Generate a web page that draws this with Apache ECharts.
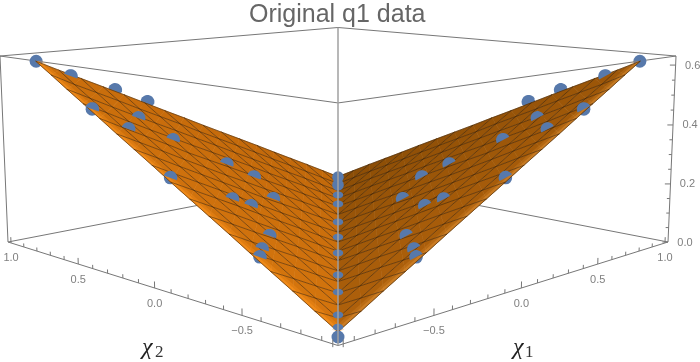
<!DOCTYPE html>
<html>
<head>
<meta charset="utf-8">
<style>html,body{margin:0;padding:0;background:#fff}#main{width:700px;height:362px}</style>
<script src="https://cdn.jsdelivr.net/npm/echarts@6/dist/echarts.min.js"></script>
</head>
<body>
<div id="main"></div>
<script>
// surface samples, rows are chi1, columns are chi2
var chiGrid = [-0.895, -0.783, -0.671, -0.559, -0.448, -0.336, -0.224, -0.112, 0, 0.112, 0.224, 0.336, 0.448, 0.559, 0.671, 0.783, 0.895];
var q1Table = [
    [0, .038, .077, .115, .153, .192, .230, .268, .306, .345, .383, .421, .460, .498, .536, .575, .613],
    [.038, 0, .038, .077, .115, .153, .192, .230, .268, .306, .345, .383, .421, .460, .498, .536, .576],
    [.077, .038, 0, .038, .077, .115, .153, .192, .230, .268, .306, .345, .383, .421, .460, .500, .540],
    [.115, .077, .038, 0, .038, .077, .115, .153, .192, .230, .268, .306, .345, .383, .423, .464, .504],
    [.153, .115, .077, .038, 0, .038, .077, .115, .153, .192, .230, .268, .306, .347, .387, .427, .468],
    [.192, .153, .115, .077, .038, 0, .038, .077, .115, .153, .192, .230, .270, .310, .351, .391, .431],
    [.230, .192, .153, .115, .077, .038, 0, .038, .077, .115, .153, .194, .234, .274, .314, .355, .394],
    [.268, .230, .192, .153, .115, .077, .038, 0, .038, .077, .117, .157, .198, .238, .278, .317, .358],
    [.306, .268, .230, .192, .153, .115, .077, .038, 0, .040, .081, .121, .161, .202, .241, .281, .321],
    [.345, .306, .268, .230, .192, .153, .115, .077, .040, .004, .044, .085, .125, .164, .205, .245, .285],
    [.383, .345, .306, .268, .230, .192, .153, .117, .081, .044, .008, .048, .088, .128, .168, .209, .249],
    [.421, .383, .345, .306, .268, .230, .194, .157, .121, .085, .048, .011, .051, .092, .132, .172, .213],
    [.460, .421, .383, .345, .306, .270, .234, .198, .161, .125, .088, .051, .015, .055, .096, .136, .176],
    [.498, .460, .421, .383, .347, .310, .274, .238, .202, .164, .128, .092, .055, .019, .059, .100, .140],
    [.536, .498, .460, .423, .387, .351, .314, .278, .241, .205, .168, .132, .096, .059, .023, .063, .104],
    [.575, .536, .500, .464, .427, .391, .355, .317, .281, .245, .209, .172, .136, .100, .063, .027, .067],
    [.613, .576, .540, .504, .468, .431, .394, .358, .321, .285, .249, .213, .176, .140, .104, .067, .030]
];

// data points off the diagonal (mirrored between the two wings)
var pointChiLow = [-.889, -.731, -.456, -.263, -.869, -.544, -.750, -.455, -.060, -.021, -.860, -.542, -.442, -.145, -.585, -.769, -.856];
var pointChiHigh = [.901, .885, .950, .971, .535, .664, .456, .543, .658, .515, .046, .057, .058, .251, -.211, -.373, -.458];
var pointQ1 = [.612, .553, .481, .422, .480, .413, .412, .341, .205, .169, .310, .205, .171, .136, .128, .135, .136];

// data points on the diagonal chi1 = chi2
var diagChi = [-.936, -.858, -.758, -.551, -.380, -.135, .064, .270, .544, .694, .873, .886];
var diagQ1 = [0, 0, 0, 0, 0, 0, 0, 0, 0, 0, 0, .03];

var chiTicks = [-1, -.9, -.8, -.7, -.6, -.5, -.4, -.3, -.2, -.1, 0, .1, .2, .3, .4, .5, .6, .7, .8, .9, 1];
var chiLabels = ['\u22120.5', '0.0', '0.5', '1.0'];
var q1Ticks = [0, .05, .1, .15, .2, .25, .3, .35, .4, .45, .5, .55, .6];
var q1Labels = ['0.0', '0.2', '0.4', '0.6'];

var chiLow = -1, chiHigh = 1, q1Low = 0, q1High = 0.63;
var tickShift = 0.024;

// perspective of the view box
function project(chi1, chi2, q) {
    var a = (chi1 - chi2) / 2;
    var b = (chi1 + chi2) / 2;
    var t = q / q1High;
    var w = 1 + 0.238 * b - 0.0237 * t;
    return [338 + 330 * a / w, (242 - 21.3 * b - 187.3 * t) / w];
}

function hex(c) {
    return [parseInt(c.substr(1, 2), 16), parseInt(c.substr(3, 2), 16), parseInt(c.substr(5, 2), 16)];
}
function mix(c1, c2, u) {
    var p = hex(c1), q = hex(c2);
    return 'rgb(' + Math.round(p[0] + (q[0] - p[0]) * u) + ',' + Math.round(p[1] + (q[1] - p[1]) * u) + ',' + Math.round(p[2] + (q[2] - p[2]) * u) + ')';
}
// left wing is lit, right wing is in shade, both brighter to the front
function wingColor(left, chi1, chi2) {
    var u = (1 - (chi1 + chi2) / 2) / 2;
    return left ? mix('#bf670a', '#d6760e', u) : mix('#874b05', '#b3630c', u);
}

function polygonItem(api, pts, style) {
    return {
        type: 'polygon',
        shape: { points: pts.map(function (p) { return api.coord(p); }) },
        style: style
    };
}
function lineItem(api, pts, stroke, width) {
    return {
        type: 'polyline',
        shape: { points: pts.map(function (p) { return api.coord(p); }) },
        style: { stroke: stroke, fill: null, lineWidth: width }
    };
}

// surface triangles: [i, j, 0 or 1]
var triangles = [];
for (var i = 0; i < chiGrid.length - 1; i++) {
    for (var j = 0; j < chiGrid.length - 1; j++) {
        triangles.push([i, j, 0]);
        triangles.push([i, j, 1]);
    }
}
function node(i, j) {
    return project(chiGrid[i], chiGrid[j], q1Table[i][j]);
}
function renderTriangle(params, api) {
    var i = api.value(0), j = api.value(1), k = api.value(2);
    var pts = k === 0 ? [node(i, j), node(i, j + 1), node(i + 1, j + 1)] : [node(i, j), node(i + 1, j), node(i + 1, j + 1)];
    var left = j === i ? k === 0 : j > i;
    var col = wingColor(left, chiGrid[i] + 0.05, chiGrid[j] + 0.05);
    return polygonItem(api, pts, { fill: col, stroke: col, lineWidth: 0.6 });
}

// bright rim along the two front edges: [wing, j, width, alpha]
var rimStrips = [];
for (var n = 0; n < chiGrid.length - 1; n++) {
    rimStrips.push([0, n, 0.03, 0.3]);
    rimStrips.push([0, n, 0.015, 0.5]);
    rimStrips.push([1, n, 0.03, 0.25]);
    rimStrips.push([1, n, 0.015, 0.45]);
}
function renderRim(params, api) {
    var wing = api.value(0), j = api.value(1), d = api.value(2), alpha = api.value(3);
    var e = chiGrid[0];
    var q0 = q1Table[0][j], q1 = q1Table[0][j + 1];
    var pts;
    if (wing === 0) {
        pts = [project(e, chiGrid[j], q0), project(e, chiGrid[j + 1], q1), project(e + d, chiGrid[j + 1], q1), project(e + d, chiGrid[j], q0)];
    } else {
        pts = [project(chiGrid[j], e, q0), project(chiGrid[j + 1], e, q1), project(chiGrid[j + 1], e + d, q1), project(chiGrid[j], e + d, q0)];
    }
    return polygonItem(api, pts, { fill: wing === 0 ? 'rgba(255,150,30,' + alpha + ')' : 'rgba(225,145,50,' + alpha + ')' });
}

// mesh lines along chi1 and chi2
var meshLines = [];
for (var m = 0; m < chiGrid.length; m++) {
    meshLines.push([0, m]);
    meshLines.push([1, m]);
}
function renderMesh(params, api) {
    var dir = api.value(0), m = api.value(1), pts = [];
    for (var s = 0; s < chiGrid.length; s++) {
        pts.push(dir === 0 ? node(m, s) : node(s, m));
    }
    return lineItem(api, pts, 'rgba(45,28,10,0.68)', 0.75);
}

// box edges: [chi1, chi2, q, chi1, chi2, q]
var backEdges = [
    [chiLow, chiHigh, q1High, chiHigh, chiHigh, q1High],
    [chiHigh, chiLow, q1High, chiHigh, chiHigh, q1High],
    [chiLow, chiHigh, q1High, chiLow, chiLow, q1High],
    [chiHigh, chiLow, q1High, chiLow, chiLow, q1High],
    [chiLow, chiHigh, q1Low, chiHigh, chiHigh, q1Low],
    [chiHigh, chiLow, q1Low, chiHigh, chiHigh, q1Low],
    [chiLow, chiHigh, q1Low, chiLow, chiHigh, q1High],
    [chiHigh, chiLow, q1Low, chiHigh, chiLow, q1High],
    [chiLow, chiLow, q1Low, chiLow, chiHigh, q1Low],
    [chiLow, chiLow, q1Low, chiHigh, chiLow, q1Low]
];
var centerEdge = [[chiHigh, chiHigh, q1High, chiLow, chiLow, q1Low]];
function renderEdge(stroke, width) {
    return function (params, api) {
        return lineItem(api, [
            project(api.value(0), api.value(1), api.value(2)),
            project(api.value(3), api.value(4), api.value(5))
        ], stroke, width);
    };
}

// ticks on the three labelled edges: [which axis, value]
var tickRows = [];
chiTicks.forEach(function (v) { tickRows.push([0, v]); tickRows.push([1, v]); });
q1Ticks.forEach(function (v) { tickRows.push([2, v]); });
function renderTick(params, api) {
    var axis = api.value(0), v = api.value(1), r;
    if (axis === 2) {
        r = Math.round(v * 100) % 20 === 0 ? 0.017 : 0.009;
        return lineItem(api, [project(chiHigh, chiLow, v), project(chiHigh - r, chiLow + r, v)], '#777', 1);
    }
    r = Math.round(v * 10) % 5 === 0 ? 0.02 : 0.012;
    var c = v - tickShift;
    if (axis === 0) {
        return lineItem(api, [project(chiLow, c, 0), project(chiLow, c, r)], '#777', 1);
    }
    return lineItem(api, [project(c, chiLow, 0), project(c, chiLow, r)], '#777', 1);
}

var labelRows = [];
chiLabels.forEach(function (s) {
    labelRows.push([0, parseFloat(s.replace('\u2212', '-')), s]);
    labelRows.push([1, parseFloat(s.replace('\u2212', '-')), s]);
});
q1Labels.forEach(function (s) { labelRows.push([2, parseFloat(s), s]); });
function renderLabel(params, api) {
    var axis = api.value(0), v = api.value(1), s = labelRows[params.dataIndex][2], c, at;
    if (axis === 2) {
        at = api.coord(project(chiHigh, chiLow, v));
        at = [at[0] + 17, at[1] + 0.5];
    } else {
        c = v - tickShift;
        at = api.coord(axis === 0 ? project(chiLow, c, 0) : project(c, chiLow, 0));
        at = [at[0], at[1] + 15.5];
    }
    return {
        type: 'text',
        style: { x: at[0], y: at[1], text: s, fill: '#7f7f7f', fontSize: 11, fontFamily: 'Liberation Sans', align: 'center', verticalAlign: 'middle' }
    };
}

// the spheres poke half way through the surface
var wingPoints = [];
pointQ1.forEach(function (q, idx) {
    wingPoints.push([pointChiLow[idx], pointChiHigh[idx], q, idx]);
    wingPoints.push([pointChiHigh[idx], pointChiLow[idx], q, idx]);
});
var diagPoints = diagChi.map(function (c, idx) { return [c, c, diagQ1[idx], idx]; });
var dotColor = '#5779ab';

function renderDotBelow(params, api) {
    var c = api.coord(project(api.value(0), api.value(1), api.value(2)));
    return { type: 'circle', shape: { cx: c[0], cy: c[1], r: 6.5 }, style: { fill: dotColor } };
}
// half disc, its flat side lies on the surface
function renderDotAbove(params, api) {
    var chi1 = api.value(0), chi2 = api.value(1), idx = api.value(3);
    if (idx === 0) return null;
    var c = api.coord(project(chi1, chi2, api.value(2)));
    var tilt = (chi2 > chi1 ? 20 : -28) * Math.PI / 180;
    var pts = [];
    for (var s = 0; s <= 16; s++) {
        var th = Math.PI + tilt + Math.PI * s / 16;
        pts.push([c[0] + 7 * Math.cos(th), c[1] + 7 * Math.sin(th)]);
    }
    return { type: 'polygon', shape: { points: pts }, style: { fill: dotColor } };
}
function renderDotDiag(params, api) {
    var idx = api.value(3);
    var c = api.coord(project(api.value(0), api.value(1), api.value(2)));
    if (idx === 0) {
        return { type: 'circle', shape: { cx: c[0], cy: c[1], r: 6.5 }, style: { fill: dotColor } };
    }
    if (idx >= diagChi.length - 2) {
        return { type: 'circle', shape: { cx: c[0], cy: c[1], r: 5.8 }, style: { fill: dotColor } };
    }
    return { type: 'ellipse', shape: { cx: c[0], cy: c[1], rx: 5.2, ry: 3.4 }, style: { fill: dotColor } };
}

function custom(data, render) {
    return {
        type: 'custom',
        coordinateSystem: 'cartesian2d',
        data: data,
        renderItem: render,
        clip: false,
        silent: true,
        animation: false
    };
}

function chiGlyph(x, y) {
    return { type: 'text', left: x, top: y, style: { text: '\u03c7', fontFamily: 'Liberation Serif', fontStyle: 'italic', fontSize: 24, fill: '#222' } };
}
function digitGlyph(x, y, s) {
    return { type: 'text', left: x, top: y, style: { text: s, fontFamily: 'Liberation Serif', fontSize: 17, fill: '#333' } };
}

var myChart = echarts.init(document.getElementById('main'), null, { renderer: 'canvas' });
myChart.setOption({
    animation: false,
    backgroundColor: '#fff',
    title: {
        text: 'Original q1 data',
        left: 249,
        top: 3,
        padding: 0,
        textStyle: { fontFamily: 'Liberation Sans', fontSize: 25, fontWeight: 'normal', color: '#666' }
    },
    grid: { left: 0, right: 0, top: 0, bottom: 0 },
    xAxis: { type: 'value', min: 0, max: 700, show: false },
    yAxis: { type: 'value', min: 0, max: 362, inverse: true, show: false },
    graphic: [
        chiGlyph(142, 336), digitGlyph(155, 344, '2'),
        chiGlyph(513, 336), digitGlyph(525, 344, '1')
    ],
    series: [
        custom(backEdges, renderEdge('#777', 1)),
        custom(wingPoints, renderDotBelow),
        custom(triangles, renderTriangle),
        custom(rimStrips, renderRim),
        custom(meshLines, renderMesh),
        custom(wingPoints, renderDotAbove),
        custom(diagPoints, renderDotDiag),
        custom(centerEdge, renderEdge('rgba(160,160,160,0.75)', 2)),
        custom(tickRows, renderTick),
        custom(labelRows.map(function (r) { return [r[0], r[1]]; }), renderLabel)
    ]
});
window.onresize = myChart.resize;
</script>
</body>
</html>
